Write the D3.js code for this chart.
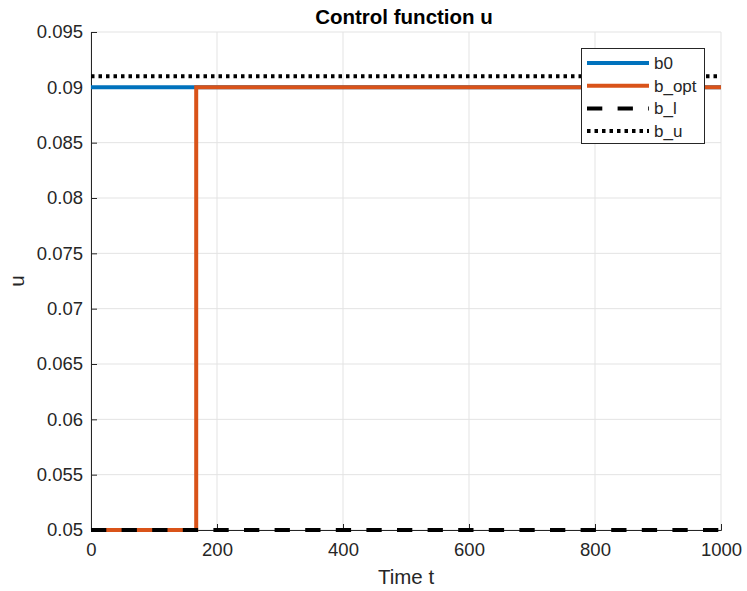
<!DOCTYPE html>
<html><head><meta charset="utf-8">
<script src="https://cdn.jsdelivr.net/npm/d3@7"></script>
<style>body{margin:0;background:#fff;} text{font-family:"Liberation Sans",Arial,sans-serif;}</style>
</head><body>
<svg id="c" width="747" height="591"></svg>
<script>
const title = "Control function u";
const xLabel = "Time t";
const yLabel = "u";
const xTicks = [0, 200, 400, 600, 800, 1000];
const yTicks = [0.05, 0.055, 0.06, 0.065, 0.07, 0.075, 0.08, 0.085, 0.09, 0.095];
const seriesNames = ["b0", "b_opt", "b_l", "b_u"];
const b0T = [0, 1000];
const b0V = [0.09, 0.09];
const bOptT = [0, 167, 167, 1000];
const bOptV = [0.05, 0.05, 0.09, 0.09];
const blT = [0, 1000];
const blV = [0.05, 0.05];
const buT = [0, 1000];
const buV = [0.091, 0.091];

const svg = d3.select("#c");
const L = 91, R = 721, T = 32, B = 530;
const x = d3.scaleLinear().domain([0, 1000]).range([L, R]);
const y = d3.scaleLinear().domain([0.05, 0.095]).range([B, T]);
const tc = "#262626";

// grid
svg.append("g").selectAll("line").data(xTicks).join("line")
  .attr("x1", d => x(d)).attr("x2", d => x(d)).attr("y1", T).attr("y2", B)
  .attr("stroke", "#e3e3e3").attr("stroke-width", 1);
svg.append("g").selectAll("line").data(yTicks).join("line")
  .attr("x1", L).attr("x2", R).attr("y1", d => y(d)).attr("y2", d => y(d))
  .attr("stroke", "#e3e3e3").attr("stroke-width", 1);

// axes
const xa = svg.append("g").attr("transform", `translate(0,${B})`)
  .call(d3.axisBottom(x).tickValues(xTicks).tickSize(-6).tickPadding(13).tickFormat(d3.format("d")));
const ya = svg.append("g").attr("transform", `translate(${L},0)`)
  .call(d3.axisLeft(y).tickValues(yTicks).tickSize(-6).tickPadding(8).tickFormat(d => String(+d.toFixed(3))));
[xa, ya].forEach(a => {
  a.select(".domain").attr("stroke", tc).attr("stroke-width", 1);
  a.selectAll(".tick line").attr("stroke", tc);
  a.selectAll(".tick text").attr("fill", tc).style("font-size", "18.5px").style("font-family", "Liberation Sans, Arial, sans-serif");
});

const line = d3.line().x(d => x(d[0])).y(d => y(d[1]));
const zip = (a, b) => a.map((v, i) => [v, b[i]]);
const styles = [
  {c: "#0072BD", w: 4, da: null},
  {c: "#D95319", w: 4, da: null},
  {c: "#000000", w: 4, da: "15.3,15.3"},
  {c: "#000000", w: 4, da: "3.5,4"}
];
const data = [zip(b0T, b0V), zip(bOptT, bOptV), zip(blT, blV), zip(buT, buV)];
data.forEach((d, i) => {
  const p = svg.append("path").attr("d", line(d)).attr("fill", "none")
    .attr("stroke", styles[i].c).attr("stroke-width", styles[i].w);
  if (styles[i].da) p.attr("stroke-dasharray", styles[i].da);
});

// title & labels
svg.append("text").attr("x", 404).attr("y", 24).attr("text-anchor", "middle")
  .attr("font-weight", "bold").attr("font-size", "20.5px").attr("fill", "#000").text(title);
svg.append("text").attr("x", (L + R) / 2).attr("y", 584).attr("text-anchor", "middle")
  .attr("font-size", "20.5px").attr("fill", tc).text(xLabel);
svg.append("text").attr("transform", `translate(24,${(T + B) / 2}) rotate(-90)`).attr("text-anchor", "middle")
  .attr("font-size", "20.5px").attr("fill", tc).text(yLabel);

// legend
const lg = svg.append("g");
lg.append("rect").attr("x", 581.5).attr("y", 48.5).attr("width", 123).attr("height", 95)
  .attr("fill", "#fff").attr("stroke", tc).attr("stroke-width", 1);
seriesNames.forEach((n, i) => {
  const yy = 63 + i * 22.7;
  const l = lg.append("line").attr("x1", 587).attr("x2", 649).attr("y1", yy).attr("y2", yy)
    .attr("stroke", styles[i].c).attr("stroke-width", styles[i].w);
  if (styles[i].da) l.attr("stroke-dasharray", styles[i].da);
  lg.append("text").attr("x", 654).attr("y", yy + 6).attr("font-size", "17px").attr("fill", tc).text(n);
});
</script>
</body></html>
